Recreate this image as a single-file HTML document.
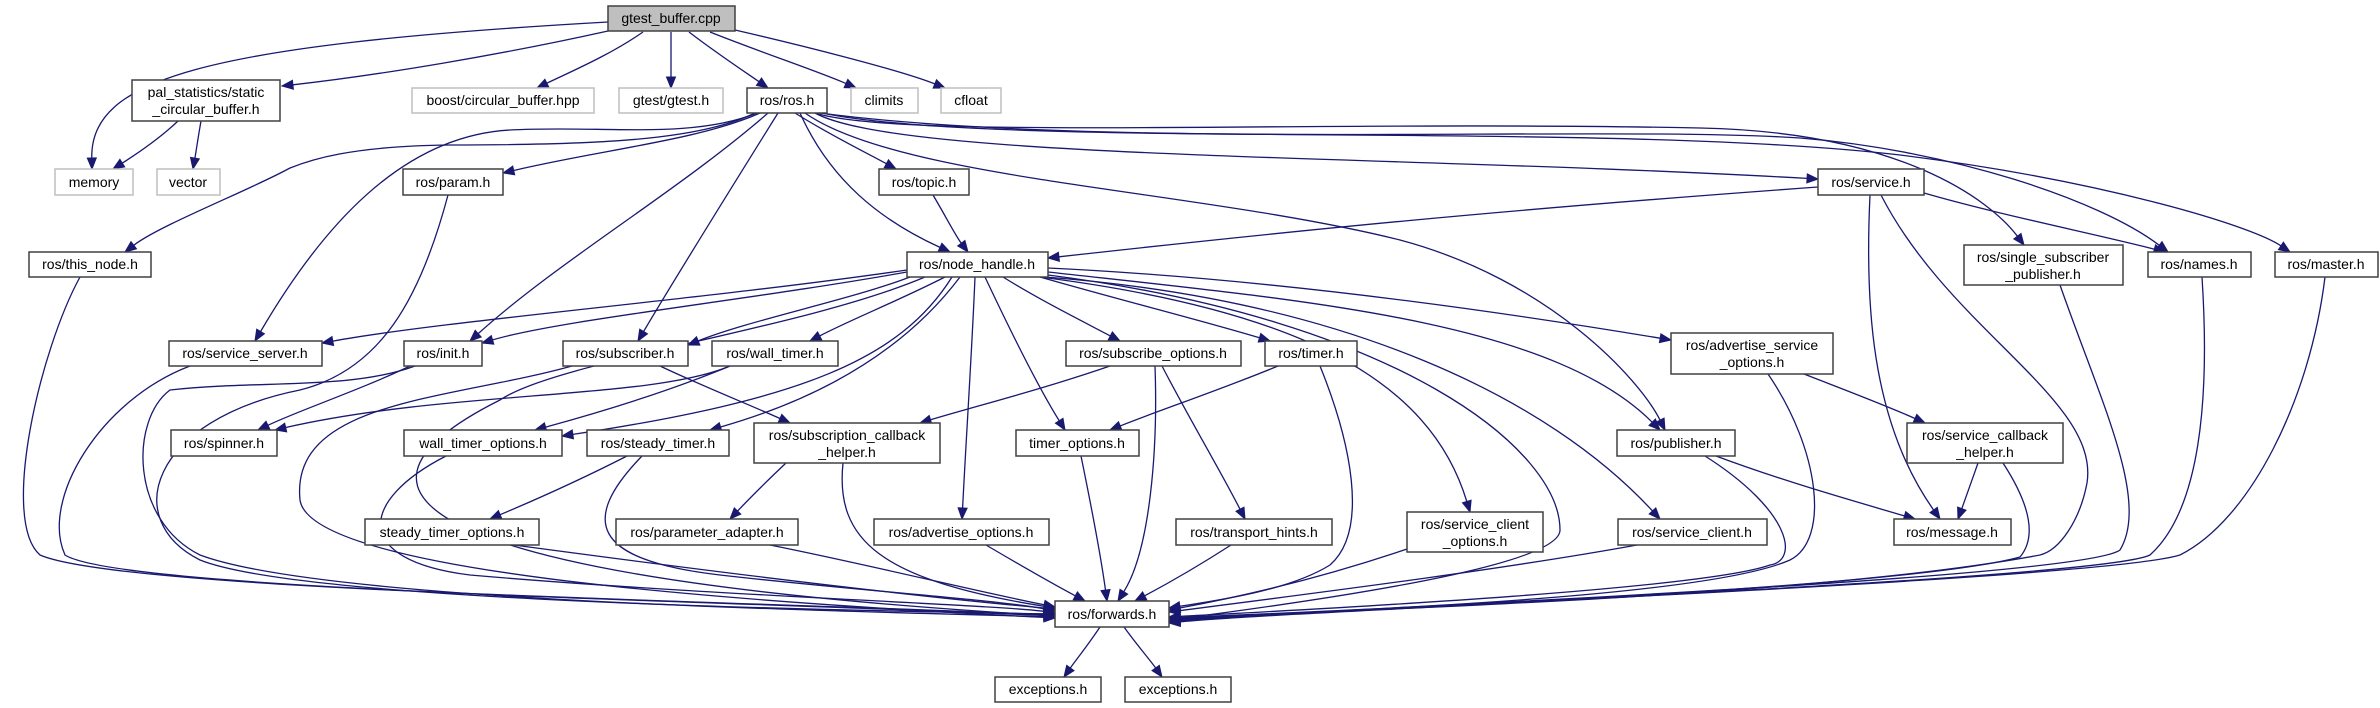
<!DOCTYPE html>
<html><head><meta charset="utf-8"><style>
html,body{margin:0;padding:0;background:#fff;}
svg{display:block;}
text{font-family:"Liberation Sans",sans-serif;font-size:14px;fill:#000;text-anchor:middle;}
.n{fill:#fff;stroke:#404040;stroke-width:1.5;}
.g{fill:#fff;stroke:#bfbfbf;stroke-width:1.5;}
.r{fill:#bfbfbf;stroke:#404040;stroke-width:1.5;}
.e{fill:none;stroke:#191970;stroke-width:1.3;}
.a{fill:#191970;stroke:#191970;stroke-width:1;}
</style></head><body>
<svg id="s" width="2380" height="708" viewBox="0 0 2380 708" xmlns="http://www.w3.org/2000/svg">
<g id="edges"></g>
<g id="nodes">
<rect class="r" x="608" y="6" width="127" height="25"/><text x="671" y="23">gtest_buffer.cpp</text>
<rect class="n" x="132" y="80" width="148" height="41"/><text x="206" y="97">pal_statistics/static</text><text x="206" y="114">_circular_buffer.h</text>
<rect class="g" x="412" y="88" width="182" height="25"/><text x="503" y="105">boost/circular_buffer.hpp</text>
<rect class="g" x="619" y="88" width="104" height="25"/><text x="671" y="105">gtest/gtest.h</text>
<rect class="n" x="747" y="88" width="80" height="25"/><text x="787" y="105">ros/ros.h</text>
<rect class="g" x="851" y="88" width="67" height="25"/><text x="884" y="105">climits</text>
<rect class="g" x="941" y="88" width="60" height="25"/><text x="971" y="105">cfloat</text>
<rect class="g" x="55" y="169" width="78" height="26"/><text x="94" y="187">memory</text>
<rect class="g" x="157" y="169" width="63" height="26"/><text x="188" y="187">vector</text>
<rect class="n" x="403" y="169" width="100" height="26"/><text x="453" y="187">ros/param.h</text>
<rect class="n" x="879" y="169" width="90" height="26"/><text x="924" y="187">ros/topic.h</text>
<rect class="n" x="1818" y="169" width="106" height="26"/><text x="1871" y="187">ros/service.h</text>
<rect class="n" x="1964" y="245" width="159" height="40"/><text x="2043" y="262">ros/single_subscriber</text><text x="2043" y="279">_publisher.h</text>
<rect class="n" x="2148" y="252" width="103" height="25"/><text x="2199" y="269">ros/names.h</text>
<rect class="n" x="2275" y="252" width="103" height="25"/><text x="2326" y="269">ros/master.h</text>
<rect class="n" x="29" y="252" width="122" height="25"/><text x="90" y="269">ros/this_node.h</text>
<rect class="n" x="907" y="252" width="141" height="25"/><text x="977" y="269">ros/node_handle.h</text>
<rect class="n" x="169" y="341" width="153" height="25"/><text x="245" y="358">ros/service_server.h</text>
<rect class="n" x="404" y="341" width="78" height="25"/><text x="443" y="358">ros/init.h</text>
<rect class="n" x="563" y="341" width="125" height="25"/><text x="625" y="358">ros/subscriber.h</text>
<rect class="n" x="712" y="341" width="126" height="25"/><text x="775" y="358">ros/wall_timer.h</text>
<rect class="n" x="1066" y="341" width="175" height="25"/><text x="1153" y="358">ros/subscribe_options.h</text>
<rect class="n" x="1265" y="341" width="92" height="25"/><text x="1311" y="358">ros/timer.h</text>
<rect class="n" x="1671" y="333" width="162" height="41"/><text x="1752" y="350">ros/advertise_service</text><text x="1752" y="367">_options.h</text>
<rect class="n" x="171" y="430" width="106" height="26"/><text x="224" y="448">ros/spinner.h</text>
<rect class="n" x="404" y="430" width="158" height="26"/><text x="483" y="448">wall_timer_options.h</text>
<rect class="n" x="587" y="430" width="142" height="26"/><text x="658" y="448">ros/steady_timer.h</text>
<rect class="n" x="754" y="423" width="186" height="40"/><text x="847" y="440">ros/subscription_callback</text><text x="847" y="457">_helper.h</text>
<rect class="n" x="1016" y="430" width="123" height="26"/><text x="1077" y="448">timer_options.h</text>
<rect class="n" x="1617" y="430" width="118" height="26"/><text x="1676" y="448">ros/publisher.h</text>
<rect class="n" x="1907" y="423" width="156" height="40"/><text x="1985" y="440">ros/service_callback</text><text x="1985" y="457">_helper.h</text>
<rect class="n" x="365" y="519" width="174" height="26"/><text x="452" y="537">steady_timer_options.h</text>
<rect class="n" x="616" y="519" width="182" height="26"/><text x="707" y="537">ros/parameter_adapter.h</text>
<rect class="n" x="874" y="519" width="175" height="26"/><text x="961" y="537">ros/advertise_options.h</text>
<rect class="n" x="1176" y="519" width="156" height="26"/><text x="1254" y="537">ros/transport_hints.h</text>
<rect class="n" x="1407" y="512" width="136" height="40"/><text x="1475" y="529">ros/service_client</text><text x="1475" y="546">_options.h</text>
<rect class="n" x="1618" y="519" width="149" height="26"/><text x="1692" y="537">ros/service_client.h</text>
<rect class="n" x="1894" y="519" width="117" height="26"/><text x="1952" y="537">ros/message.h</text>
<rect class="n" x="1055" y="601" width="114" height="26"/><text x="1112" y="619">ros/forwards.h</text>
<rect class="n" x="995" y="677" width="106" height="25"/><text x="1048" y="694">exceptions.h</text>
<rect class="n" x="1125" y="677" width="106" height="25"/><text x="1178" y="694">exceptions.h</text>
</g>
</svg>
<script>
var E=[
"M 608 22 C 200 45 90 80 92 169",
"M 608 31 C 500 55 380 75 282 86",
"M 643 32 C 610 55 570 72 537 88",
"M 671 32 C 671 50 671 70 671 88",
"M 689 32 C 715 52 745 72 768 88",
"M 710 32 C 760 52 820 72 856 88",
"M 735 30 C 800 45 900 70 945 88",
"M 178 121 C 158 140 135 155 113 169",
"M 201 121 C 198 138 196 152 193 169",
"M 755 113 C 700 140 600 145 450 145 C 350 146 310 160 290 168 C 250 190 160 225 125 252",
"M 757 113 C 690 140 600 125 510 130 C 400 136 320 230 255 341",
"M 760 113 C 700 140 600 150 503 173",
"M 768 113 C 680 190 560 260 470 341",
"M 778 113 C 730 190 680 270 638 341",
"M 795 113 C 830 135 865 152 896 169",
"M 800 113 C 830 180 880 220 950 252",
"M 815 113 C 900 160 1400 155 1818 179",
"M 815 113 C 900 140 1300 120 1700 128 C 1900 132 1990 200 2024 245",
"M 820 113 C 1100 150 1600 125 1800 138 C 1950 150 2100 200 2168 252",
"M 822 113 C 1000 150 1600 120 1900 155 C 2100 180 2250 225 2290 252",
"M 805 113 C 900 180 1200 190 1400 240 C 1550 280 1640 380 1665 430",
"M 448 195 C 420 300 380 370 300 390 C 150 420 120 520 200 560 C 300 600 800 610 1055 614",
"M 80 277 C 40 350 0 520 40 555 C 120 590 700 600 1055 616",
"M 190 366 C 100 400 40 500 65 555 C 120 590 700 600 1055 615",
"M 415 366 C 350 390 260 380 170 390 C 130 420 130 520 200 555 C 320 600 800 610 1055 617",
"M 410 366 C 360 390 300 410 258 430",
"M 730 366 C 650 400 450 390 275 430",
"M 572 366 C 450 400 290 400 300 500 C 310 570 700 600 1055 618",
"M 660 366 C 700 385 750 405 790 423",
"M 730 366 C 660 395 590 415 535 430",
"M 907 270 C 700 300 450 320 322 343",
"M 907 272 C 750 300 560 320 482 343",
"M 910 277 C 850 300 750 320 688 345",
"M 945 277 C 900 300 850 320 810 341",
"M 960 277 C 920 330 850 390 710 430",
"M 952 277 C 900 360 800 400 562 436",
"M 1003 277 C 1040 300 1080 320 1120 341",
"M 1040 277 C 1120 300 1200 320 1270 341",
"M 985 277 C 1010 330 1040 390 1065 430",
"M 975 277 C 972 350 966 440 962 519",
"M 925 277 C 800 330 560 360 500 400 C 300 500 450 580 1055 616",
"M 1040 277 C 1300 310 1430 380 1470 512",
"M 1045 277 C 1350 300 1550 400 1660 519",
"M 1048 272 C 1300 300 1550 320 1660 430",
"M 1048 268 C 1300 280 1550 320 1671 340",
"M 1048 275 C 1400 320 1560 450 1560 530 C 1560 560 1400 590 1169 620",
"M 933 195 C 945 215 955 235 968 252",
"M 1818 187 C 1500 210 1300 230 1048 258",
"M 1924 193 C 2000 215 2100 235 2165 252",
"M 1870 195 C 1865 300 1870 420 1940 519",
"M 1881 195 C 1950 330 2100 400 2087 483 C 2080 520 2060 550 2040 555 C 1800 600 1300 610 1169 620",
"M 2060 285 C 2100 400 2150 500 2120 550 C 2080 580 1300 610 1169 621",
"M 2202 277 C 2210 400 2200 510 2150 555 C 2100 580 1300 610 1169 622",
"M 2325 277 C 2310 400 2250 520 2180 555 C 2100 580 1300 610 1169 623",
"M 1804 374 C 1845 390 1885 405 1925 423",
"M 1768 374 C 1820 450 1830 540 1790 560 C 1700 600 1300 612 1169 618",
"M 1978 463 C 1972 480 1965 500 1958 519",
"M 2003 463 C 2040 520 2030 545 2020 557 C 1900 590 1300 612 1169 619",
"M 1716 456 C 1780 480 1850 500 1915 519",
"M 1705 456 C 1790 510 1800 560 1770 565 C 1700 590 1300 610 1169 617",
"M 1637 545 C 1500 570 1300 595 1169 612",
"M 1407 549 C 1330 575 1250 595 1169 610",
"M 1320 366 C 1350 440 1370 530 1330 565 C 1290 590 1220 600 1169 608",
"M 1278 366 C 1220 390 1160 410 1110 430",
"M 1110 366 C 1040 390 980 405 920 423",
"M 1155 366 C 1158 450 1150 550 1118 601",
"M 1162 366 C 1190 420 1220 470 1245 519",
"M 1081 456 C 1090 500 1100 550 1107 601",
"M 986 545 C 1020 565 1055 585 1085 601",
"M 1231 545 C 1200 565 1165 585 1135 601",
"M 786 463 C 768 480 748 500 730 519",
"M 843 463 C 835 540 880 580 1055 608",
"M 770 545 C 870 565 970 590 1055 607",
"M 627 456 C 580 480 535 500 490 519",
"M 642 456 C 580 520 590 560 720 575 C 850 590 1000 600 1055 611",
"M 514 545 C 700 570 900 595 1055 609",
"M 446 456 C 360 500 350 560 470 575 C 700 595 1000 605 1055 613",
"M 1100 627 C 1088 645 1076 660 1064 677",
"M 1124 627 C 1137 645 1150 660 1162 677"
];
var g=document.getElementById('edges'),NS="http://www.w3.org/2000/svg",out="";
E.forEach(function(d){
 var n=d.match(/-?\d+(\.\d+)?/g).map(Number),L=n.length;
 var tx=n[L-2],ty=n[L-1],cx=n[L-4],cy=n[L-3];
 var dx=tx-cx,dy=ty-cy,l=Math.sqrt(dx*dx+dy*dy)||1;dx/=l;dy/=l;
 var bx=tx-dx*11,by=ty-dy*11;
 var dd=d.replace(/(-?\d+(\.\d+)?)\s+(-?\d+(\.\d+)?)\s*$/,bx.toFixed(1)+" "+by.toFixed(1));
 out+='<path class="e" d="'+dd+'"/>';
 var px=-dy*4.5,py=dx*4.5;
 out+='<polygon class="a" points="'+tx+','+ty+' '+(bx+px).toFixed(1)+','+(by+py).toFixed(1)+' '+(bx-px).toFixed(1)+','+(by-py).toFixed(1)+'"/>';
});
g.innerHTML=out;
</script>
</body></html>
